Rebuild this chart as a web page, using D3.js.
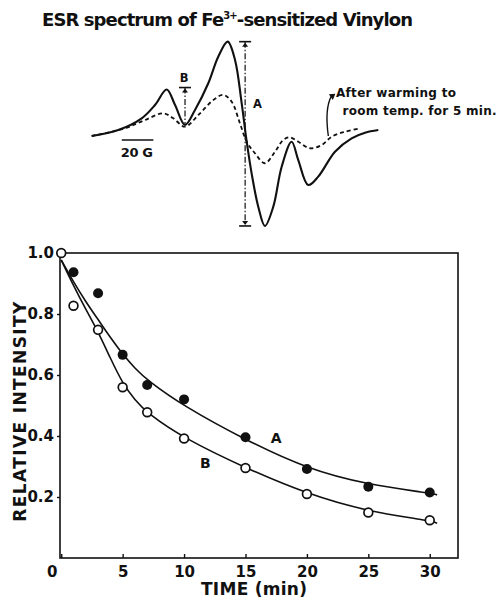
<!DOCTYPE html>
<html>
<head>
<meta charset="utf-8">
<script src="https://cdn.jsdelivr.net/npm/d3@7"></script>
<style>
  body { margin: 0; background: #fff; }
  svg { display: block; }
  text { font-family: "DejaVu Sans", sans-serif; font-weight: bold; fill: #111; }
</style>
</head>
<body>
<script>
// ESR spectrum (field in G from left end, intensity in arbitrary units)
const solidField = [0, 16.8, 31.6, 40, 47.4, 52.7, 59, 65.3, 73.7, 80, 86, 90.6, 94.8, 98, 101.1, 105.3, 109.5, 114.8, 120.1, 126.4, 130.6, 136.9, 143.2, 153.8, 164.3, 172.8, 181.2];
const solidInt = [0, 0.063, 0.186, 0.326, 0.49, 0.326, 0.116, 0.274, 0.555, 0.835, 0.993, 0.8, 0.347, -0.06, -0.393, -0.744, -0.947, -0.744, -0.323, -0.06, -0.253, -0.516, -0.428, -0.165, -0.024, 0.035, 0.063];
const dashField = [0, 21, 33.7, 45.3, 51.6, 59, 67.4, 76.9, 83.2, 88.5, 93.7, 98, 103.2, 109.5, 115.9, 121.1, 125.3, 130.6, 138, 145.4, 151.7, 160.1, 169.6];
const dashInt = [0, 0.081, 0.168, 0.239, 0.186, 0.098, 0.221, 0.379, 0.432, 0.361, 0.134, -0.06, -0.182, -0.287, -0.165, -0.042, -0.014, -0.06, -0.129, -0.095, -0.007, 0.045, 0.081];

// decay of the relative intensity
const timeA = [1, 3, 5, 7, 10, 15, 20, 25, 30];
const intensityA = [0.937, 0.868, 0.666, 0.567, 0.52, 0.396, 0.292, 0.234, 0.215];
const timeB = [0, 1, 3, 5, 7, 10, 15, 20, 25, 30];
const intensityB = [1.0, 0.827, 0.748, 0.56, 0.478, 0.392, 0.295, 0.21, 0.149, 0.124];

// drawn curves
const fitTime = [0, 1, 2, 3, 4, 5, 6, 7, 10, 15, 20, 25, 30, 30.6];
const fitA = [0.977, 0.905, 0.84, 0.782, 0.723, 0.668, 0.622, 0.583, 0.497, 0.387, 0.292, 0.24, 0.213, 0.207];
const fitB = [0.977, 0.893, 0.815, 0.742, 0.655, 0.572, 0.518, 0.475, 0.392, 0.295, 0.21, 0.152, 0.123, 0.114];

const xTicks = [0, 5, 10, 15, 20, 25, 30];
const yTicks = [0.2, 0.4, 0.6, 0.8, 1.0];

const svg = d3.select('body').append('svg')
  .attr('width', 499).attr('height', 603);
svg.append('rect').attr('width', 499).attr('height', 603).attr('fill', '#fff');

// ---- top panel: spectrum ----
const title = svg.append('text').attr('x', 42).attr('y', 25.5)
  .attr('font-size', 18).attr('textLength', 371).attr('lengthAdjust', 'spacing');
title.append('tspan').text('ESR spectrum of Fe');
title.append('tspan').attr('dy', -7).attr('font-size', 10).text('3+');
title.append('tspan').attr('dy', 7).text('-sensitized Vinylon');

const xG = d3.scaleLinear().domain([0, 181]).range([91.7, 378]);
const yI = d3.scaleLinear().domain([-1, 1]).range([231, 41]);

const specLine = d3.line()
  .x((d) => xG(d[0]))
  .y((d) => yI(d[1]))
  .curve(d3.curveCatmullRom.alpha(0.5));

svg.append('path')
  .attr('d', specLine(dashField.map((f, i) => [f, dashInt[i]])))
  .attr('fill', 'none').attr('stroke', '#111').attr('stroke-width', 1.8)
  .attr('stroke-dasharray', '4,3');
svg.append('path')
  .attr('d', specLine(solidField.map((f, i) => [f, solidInt[i]])))
  .attr('fill', 'none').attr('stroke', '#111').attr('stroke-width', 2.1);

// peak-to-peak markers
function marker(field, top, bottom, capTop, capBottom) {
  const x0 = xG(field);
  svg.append('line').attr('x1', x0).attr('x2', x0)
    .attr('y1', yI(top)).attr('y2', yI(bottom))
    .attr('stroke', '#111').attr('stroke-width', 1.2)
    .attr('stroke-dasharray', '6,2,1.5,2');
  if (capTop) {
    const y0 = yI(top);
    svg.append('line').attr('x1', x0 - 6).attr('x2', x0 + 6).attr('y1', y0).attr('y2', y0)
      .attr('stroke', '#111').attr('stroke-width', 1.6);
    svg.append('path').attr('d', `M${x0 - 3},${y0 + 5}L${x0 + 3},${y0 + 5}L${x0},${y0 + 1}Z`)
      .attr('fill', '#111');
  }
  if (capBottom) {
    const y0 = yI(bottom);
    svg.append('line').attr('x1', x0 - 6).attr('x2', x0 + 6).attr('y1', y0).attr('y2', y0)
      .attr('stroke', '#111').attr('stroke-width', 1.6);
    svg.append('path').attr('d', `M${x0 - 3},${y0 - 5}L${x0 + 3},${y0 - 5}L${x0},${y0 - 1}Z`)
      .attr('fill', '#111');
  }
}
marker(97, 0.993, -0.947, true, true);
marker(59, 0.51, 0.116, true, false);

svg.append('text').attr('x', xG(102)).attr('y', yI(0.29)).attr('font-size', 11.5).text('A');
svg.append('text').attr('x', xG(58.5)).attr('y', yI(0.565)).attr('font-size', 11.5)
  .attr('text-anchor', 'middle').text('B');

// 20 G scale bar
svg.append('line').attr('x1', xG(19)).attr('x2', xG(39)).attr('y1', 140).attr('y2', 140)
  .attr('stroke', '#111').attr('stroke-width', 1.6);
svg.append('text').attr('x', xG(18.4)).attr('y', 156.5).attr('font-size', 13)
  .attr('textLength', 32).attr('lengthAdjust', 'spacing').text('20 G');

// annotation for the dashed trace
const ax = xG(149.6);
svg.append('path').attr('d', `M${ax},${yI(0.0)}C${ax - 2},${yI(0.15)} ${ax - 2},${yI(0.32)} ${ax + 3},${yI(0.42)}`)
  .attr('fill', 'none').attr('stroke', '#111').attr('stroke-width', 1.4);
svg.append('path').attr('d', `M${ax + 7},${yI(0.445)}L${ax + 0.5},${yI(0.44)}L${ax + 4.5},${yI(0.38)}Z`)
  .attr('fill', '#111');
svg.append('text').attr('x', 336).attr('y', 96.7).attr('font-size', 12)
  .attr('textLength', 120).attr('lengthAdjust', 'spacing').text('After warming to');
svg.append('text').attr('x', 342.5).attr('y', 114.5).attr('font-size', 12)
  .attr('textLength', 154).attr('lengthAdjust', 'spacing').text('room temp. for 5 min.');

// ---- bottom panel: decay ----
const x = d3.scaleLinear().domain([-0.1, 32.3]).range([60, 458]);
const y = d3.scaleLinear().domain([0, 1]).range([558, 253]);

svg.append('rect').attr('x', x.range()[0]).attr('y', y.range()[1])
  .attr('width', x.range()[1] - x.range()[0]).attr('height', y.range()[0] - y.range()[1])
  .attr('fill', 'none').attr('stroke', '#111').attr('stroke-width', 1.6);

const yAxis = svg.append('g').attr('transform', `translate(${x.range()[0]},0)`)
  .call(d3.axisLeft(y).tickValues(yTicks).tickSize(3).tickPadding(3)
    .tickFormat(d3.format('.1f')));
const xAxis = svg.append('g').attr('transform', `translate(0,${y.range()[0]})`)
  .call(d3.axisBottom(x).tickValues(xTicks).tickSize(-4).tickPadding(8));
[yAxis, xAxis].forEach((g) => {
  g.select('.domain').remove();
  g.selectAll('line').attr('stroke', '#111').attr('stroke-width', 1.4);
  g.selectAll('text').attr('font-size', 15).attr('fill', '#111')
    .attr('font-family', '"DejaVu Sans", sans-serif').attr('font-weight', 'bold');
});
xAxis.selectAll('.tick').filter((d) => d === 0).select('text').attr('dx', -9.5);

svg.append('text').attr('x', 254).attr('y', 595).attr('font-size', 17)
  .attr('text-anchor', 'middle').attr('textLength', 106).attr('lengthAdjust', 'spacing')
  .text('TIME (min)');
svg.append('text').attr('transform', 'translate(25.5,411.7) rotate(-90)')
  .attr('font-size', 17).attr('text-anchor', 'middle')
  .attr('textLength', 220).attr('lengthAdjust', 'spacing')
  .text('RELATIVE INTENSITY');

const fitLine = d3.line()
  .x((d) => x(d[0]))
  .y((d) => y(d[1]))
  .curve(d3.curveBasis);
[fitA, fitB].forEach((fit) => {
  svg.append('path').attr('d', fitLine(fitTime.map((t, i) => [t, fit[i]])))
    .attr('fill', 'none').attr('stroke', '#111').attr('stroke-width', 1.6);
});

svg.append('g').selectAll('circle')
  .data(timeA.map((t, i) => [t, intensityA[i]]))
  .join('circle')
  .attr('cx', (d) => x(d[0])).attr('cy', (d) => y(d[1])).attr('r', 5)
  .attr('fill', '#111');
svg.append('g').selectAll('circle')
  .data(timeB.map((t, i) => [t, intensityB[i]]))
  .join('circle')
  .attr('cx', (d) => x(d[0])).attr('cy', (d) => y(d[1])).attr('r', 4.4)
  .attr('fill', '#fff').attr('stroke', '#111').attr('stroke-width', 1.7);

svg.append('text').attr('x', x(17.05)).attr('y', y(0.376)).attr('font-size', 14).text('A');
svg.append('text').attr('x', x(11.3)).attr('y', y(0.294)).attr('font-size', 14).text('B');
</script>
</body>
</html>
